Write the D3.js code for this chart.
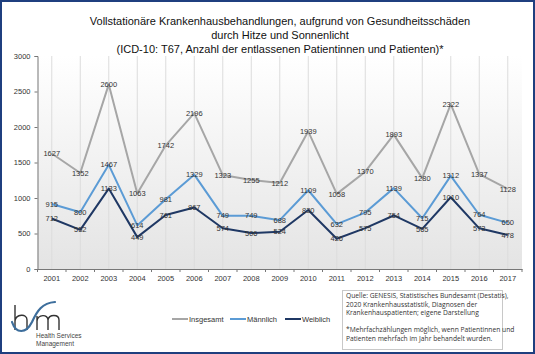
<!DOCTYPE html>
<html>
<head>
<meta charset="utf-8">
<script src="https://cdn.jsdelivr.net/npm/d3@7"></script>
<style>
  body { margin: 0; background: #fff; }
  svg { display: block; font-family: "Liberation Sans", Arial, sans-serif; }
</style>
</head>
<body>
<div id="chart"></div>
<script>
// data
const years = ["2001", "2002", "2003", "2004", "2005", "2006", "2007", "2008", "2009",
  "2010", "2011", "2012", "2013", "2014", "2015", "2016", "2017"];
const insgesamt = [1627, 1352, 2600, 1063, 1742, 2196, 1323, 1255, 1212, 1939, 1058, 1370, 1893, 1280, 2322, 1337, 1128];
const maennlich = [915, 800, 1467, 614, 981, 1329, 749, 749, 688, 1109, 632, 795, 1139, 715, 1312, 764, 650];
const weiblich = [712, 552, 1133, 449, 761, 867, 574, 506, 524, 830, 426, 575, 754, 565, 1010, 573, 478];
const yTicks = [0, 500, 1000, 1500, 2000, 2500, 3000];
const titleLines = [
  "Vollstationäre Krankenhausbehandlungen, aufgrund von Gesundheitsschäden",
  "durch Hitze und Sonnenlicht",
  "(ICD-10: T67, Anzahl der entlassenen Patientinnen und Patienten)*"
];
const sourceLines = [
  "Quelle: GENESIS, Statistisches Bundesamt (Destatis),",
  "2020 Krankenhausstatistik, Diagnosen der",
  "Krankenhauspatienten; eigene Darstellung",
  "",
  "*Mehrfachzählungen möglich, wenn Patientinnen und",
  "Patienten mehrfach im Jahr behandelt wurden."
];

const series = [
  {name: "Insgesamt", values: insgesamt, color: "#a6a6a6"},
  {name: "Männlich", values: maennlich, color: "#5b9bd5"},
  {name: "Weiblich", values: weiblich, color: "#1f3864"}
];

const width = 535, height = 354;
const plot = {left: 37.5, right: 522, top: 56, bottom: 269};

const svg = d3.select("#chart").append("svg")
    .attr("width", width)
    .attr("height", height);

const defs = svg.append("defs");
const grad = defs.append("linearGradient")
    .attr("id", "bg")
    .attr("x1", 0).attr("y1", 0).attr("x2", 0).attr("y2", 1);
grad.append("stop").attr("offset", "0%").attr("stop-color", "#ffffff");
grad.append("stop").attr("offset", "100%").attr("stop-color", "#e4e4e4");

// outer frame
svg.append("rect")
    .attr("x", 1).attr("y", 1)
    .attr("width", width - 2).attr("height", height - 2)
    .attr("fill", "#fff")
    .attr("stroke", "#1f3f7f")
    .attr("stroke-width", 2);

// title
svg.append("text")
    .attr("text-anchor", "middle")
    .attr("font-size", "11px")
    .attr("fill", "#111")
    .selectAll("tspan")
    .data(titleLines)
    .enter()
    .append("tspan")
    .attr("x", 280)
    .attr("y", (d, i) => 25 + i * 13.8)
    .text(d => d);

// scales
const xScale = d3.scaleBand().domain(years).range([plot.left, plot.right]);
const yScale = d3.scaleLinear().domain([0, 3000]).range([plot.bottom, plot.top]);
const xc = d => xScale(d) + xScale.bandwidth() / 2;

// plot background
svg.append("rect")
    .attr("x", plot.left).attr("y", plot.top)
    .attr("width", plot.right - plot.left)
    .attr("height", plot.bottom - plot.top)
    .attr("fill", "url(#bg)");

// vertical grid lines
svg.append("g")
    .selectAll("line")
    .data(years)
    .enter()
    .append("line")
    .attr("x1", d => xc(d)).attr("x2", d => xc(d))
    .attr("y1", plot.top).attr("y2", plot.bottom)
    .attr("stroke", "#dcdcdc")
    .attr("stroke-width", 1);

// axes
const yAxis = svg.append("g")
    .attr("transform", "translate(" + plot.left + ",0)")
    .call(d3.axisLeft(yScale).tickValues(yTicks).tickSize(3).tickPadding(4).tickFormat(d3.format("d")));
yAxis.selectAll("text").attr("font-size", "7.5px").attr("fill", "#333").attr("font-family", null);
yAxis.selectAll("line, path").attr("stroke", "#777");

const xAxis = svg.append("g")
    .attr("transform", "translate(0," + plot.bottom + ")")
    .call(d3.axisBottom(xScale).tickSize(0).tickPadding(7));
xAxis.selectAll("text").attr("font-size", "7.5px").attr("fill", "#333").attr("font-family", null);
xAxis.select("path").attr("stroke", "#777");
// category boundary ticks
xAxis.append("g")
    .selectAll("line")
    .data(years.concat(["end"]))
    .enter()
    .append("line")
    .attr("x1", (d, i) => plot.left + i * xScale.bandwidth())
    .attr("x2", (d, i) => plot.left + i * xScale.bandwidth())
    .attr("y1", 0).attr("y2", 3)
    .attr("stroke", "#777");

// lines
const line = d3.line()
    .x((d, i) => xc(years[i]))
    .y(d => yScale(d));

series.forEach(s => {
  svg.append("path")
      .datum(s.values)
      .attr("fill", "none")
      .attr("stroke", s.color)
      .attr("stroke-width", 2)
      .attr("stroke-linejoin", "round")
      .attr("d", line);
});

// data labels
series.forEach(s => {
  svg.append("g")
      .selectAll("text")
      .data(s.values)
      .enter()
      .append("text")
      .attr("x", (d, i) => xc(years[i]))
      .attr("y", d => yScale(d))
      .attr("dy", "0.35em")
      .attr("text-anchor", "middle")
      .attr("font-size", "7.5px")
      .attr("fill", "#333")
      .text(d => d);
});

// legend
const legendX = [172, 230, 285];
const legend = svg.append("g")
    .selectAll("g")
    .data(series)
    .enter()
    .append("g")
    .attr("transform", (d, i) => "translate(" + legendX[i] + ",319)");
legend.append("line")
    .attr("x1", 0).attr("x2", 16)
    .attr("stroke", d => d.color)
    .attr("stroke-width", 2);
legend.append("text")
    .attr("x", 17)
    .attr("dy", "0.35em")
    .attr("font-size", "7.5px")
    .attr("fill", "#333")
    .text(d => d.name);

// source box
svg.append("rect")
    .attr("x", 342.5).attr("y", 290.5)
    .attr("width", 160).attr("height", 59)
    .attr("fill", "#fff")
    .attr("stroke", "#c8c8c8");
svg.append("text")
    .attr("font-size", "6.7px")
    .attr("fill", "#333")
    .attr("font-family", "'Open Sans', sans-serif")
    .selectAll("tspan")
    .data(sourceLines)
    .enter()
    .append("tspan")
    .attr("x", 346)
    .attr("y", (d, i) => 298 + i * 8.5)
    .text(d => d);

// hsm logo, drawn as strokes
const logo = svg.append("g")
    .attr("fill", "none")
    .attr("stroke", "#333")
    .attr("stroke-width", 1.4);
logo.append("path")
    .attr("d", "M15,305 L15,330 M15,321 C16,314 27,313 27,320 L27,330");
logo.append("path")
    .attr("d", "M37,316 L37,330 M37,321 C38,314 48,314 48,320 L48,330 M48,320 C49,314 59,314 59,320 L59,330");
logo.append("path")
    .attr("d", "M12,322 C16,334 26,334 32,322 C37,311 42,303 55,302")
    .attr("stroke", "#3d6e9c")
    .attr("stroke-width", 2.2)
    .attr("stroke-linecap", "round");
svg.append("text")
    .attr("font-size", "6.5px")
    .attr("fill", "#444")
    .selectAll("tspan")
    .data(["Health Services", "Management"])
    .enter()
    .append("tspan")
    .attr("x", 36)
    .attr("y", (d, i) => 338 + i * 7.5)
    .text(d => d);
</script>
</body>
</html>
